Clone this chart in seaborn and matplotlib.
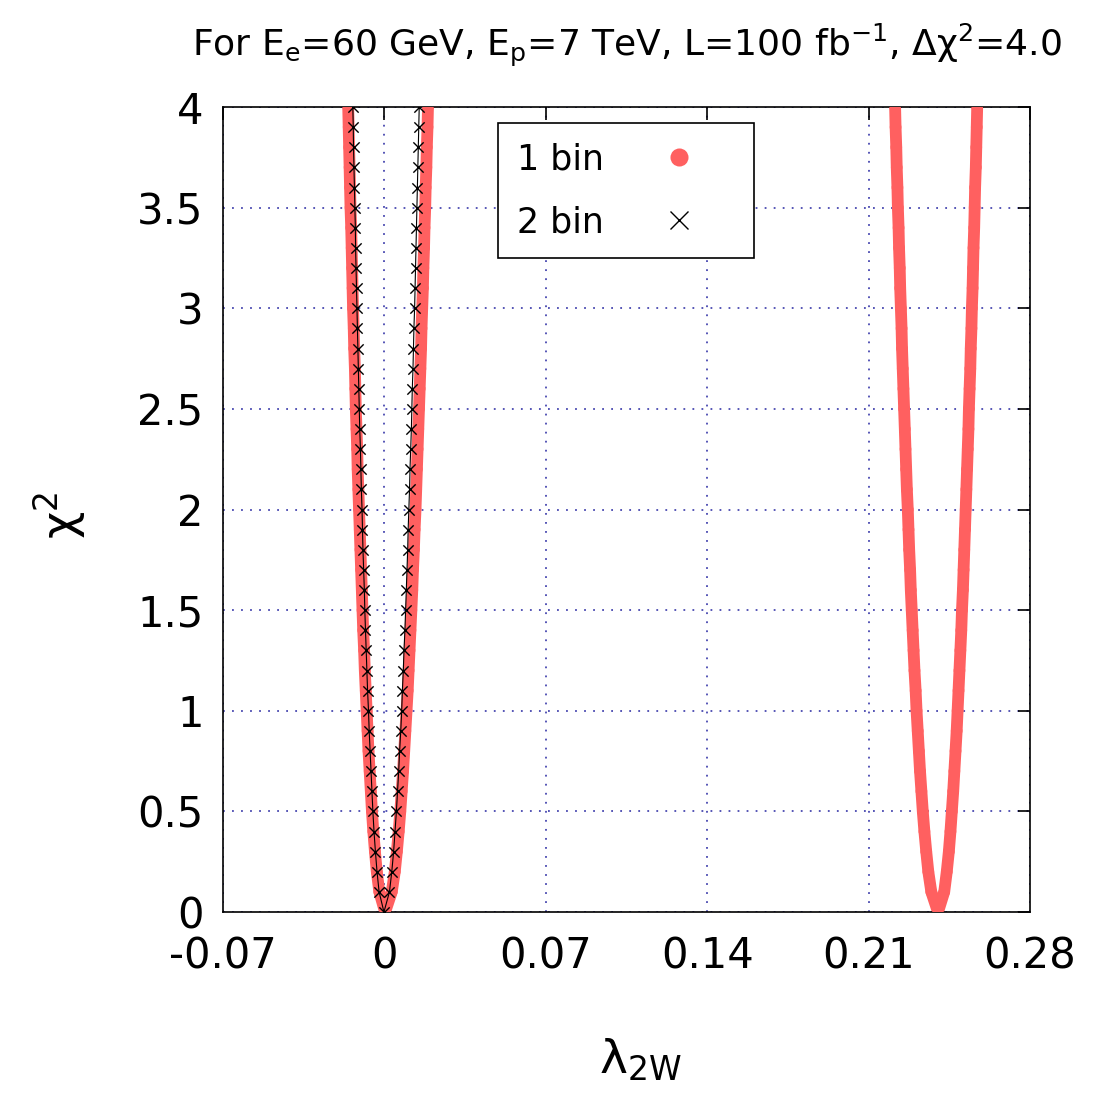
import numpy as np
import pandas as pd
import matplotlib
matplotlib.use('Agg')
import matplotlib.pyplot as plt
import seaborn as sns
from matplotlib.lines import Line2D

# chi^2 levels shared by every curve (left branch top -> minimum -> right branch top)
chi2_levels = [4.0, 3.9, 3.8, 3.7, 3.6, 3.5, 3.4, 3.3, 3.2, 3.1, 3.0, 2.9, 2.8, 2.7, 2.6, 2.5,
               2.4, 2.3, 2.2, 2.1, 2.0, 1.9, 1.8, 1.7, 1.6, 1.5, 1.4, 1.3, 1.2, 1.1, 1.0, 0.9,
               0.8, 0.7, 0.6, 0.5, 0.4, 0.3, 0.2, 0.1, 0.0,
               0.1, 0.2, 0.3, 0.4, 0.5, 0.6, 0.7, 0.8, 0.9, 1.0, 1.1, 1.2, 1.3, 1.4, 1.5,
               1.6, 1.7, 1.8, 1.9, 2.0, 2.1, 2.2, 2.3, 2.4, 2.5, 2.6, 2.7, 2.8, 2.9, 3.0,
               3.1, 3.2, 3.3, 3.4, 3.5, 3.6, 3.7, 3.8, 3.9, 4.0]

# 1 bin, solution near zero
lam_1bin_a = [-0.0157, -0.0155, -0.0153, -0.0151, -0.0149, -0.0147, -0.0144, -0.0142, -0.0140,
              -0.0138, -0.0136, -0.0133, -0.0131, -0.0128, -0.0126, -0.0124, -0.0121, -0.0118,
              -0.0116, -0.0113, -0.0110, -0.0107, -0.0104, -0.0101, -0.0098, -0.0095, -0.0092,
              -0.0088, -0.0085, -0.0081, -0.0077, -0.0073, -0.0069, -0.0064, -0.0059, -0.0054,
              -0.0048, -0.0041, -0.0033, -0.0022, 0.0003,
              0.0032, 0.0045, 0.0054, 0.0062, 0.0069, 0.0075, 0.0081, 0.0086, 0.0091, 0.0096,
              0.0101, 0.0105, 0.0109, 0.0113, 0.0117, 0.0121, 0.0124, 0.0128, 0.0131, 0.0135,
              0.0138, 0.0141, 0.0144, 0.0147, 0.0150, 0.0153, 0.0156, 0.0159, 0.0161, 0.0164,
              0.0167, 0.0169, 0.0172, 0.0174, 0.0177, 0.0179, 0.0182, 0.0184, 0.0187, 0.0189]

# 1 bin, second solution
lam_1bin_b = [0.2215, 0.2217, 0.2220, 0.2222, 0.2225, 0.2227, 0.2230, 0.2232, 0.2235, 0.2237,
              0.2240, 0.2243, 0.2245, 0.2248, 0.2251, 0.2254, 0.2257, 0.2260, 0.2263, 0.2266,
              0.2270, 0.2273, 0.2276, 0.2280, 0.2283, 0.2287, 0.2291, 0.2295, 0.2299, 0.2304,
              0.2308, 0.2313, 0.2318, 0.2323, 0.2329, 0.2335, 0.2342, 0.2350, 0.2359, 0.2372,
              0.2401,
              0.2428, 0.2439, 0.2448, 0.2455, 0.2461, 0.2467, 0.2472, 0.2477, 0.2482, 0.2486,
              0.2490, 0.2494, 0.2498, 0.2502, 0.2505, 0.2509, 0.2512, 0.2515, 0.2518, 0.2521,
              0.2524, 0.2527, 0.2530, 0.2533, 0.2535, 0.2538, 0.2541, 0.2543, 0.2546, 0.2548,
              0.2551, 0.2553, 0.2555, 0.2558, 0.2560, 0.2562, 0.2565, 0.2567, 0.2569, 0.2571]

# 2 bin
lam_2bin = [-0.0137, -0.0135, -0.0134, -0.0132, -0.0130, -0.0128, -0.0126, -0.0125, -0.0123,
            -0.0121, -0.0119, -0.0117, -0.0115, -0.0113, -0.0111, -0.0109, -0.0107, -0.0104,
            -0.0102, -0.0100, -0.0097, -0.0095, -0.0093, -0.0090, -0.0087, -0.0085, -0.0082,
            -0.0079, -0.0076, -0.0073, -0.0069, -0.0066, -0.0062, -0.0058, -0.0054, -0.0050,
            -0.0045, -0.0039, -0.0032, -0.0023, -0.0002,
            0.0022, 0.0032, 0.0040, 0.0046, 0.0052, 0.0057, 0.0062, 0.0066, 0.0071, 0.0075,
            0.0078, 0.0082, 0.0085, 0.0089, 0.0092, 0.0095, 0.0098, 0.0101, 0.0103, 0.0106,
            0.0109, 0.0111, 0.0114, 0.0117, 0.0119, 0.0121, 0.0124, 0.0126, 0.0128, 0.0131,
            0.0133, 0.0135, 0.0137, 0.0139, 0.0141, 0.0143, 0.0145, 0.0147, 0.0149, 0.0151]

series_labels = ['1 bin', '2 bin']
x_ticks = [-0.07, 0.0, 0.07, 0.14, 0.21, 0.28]
x_tick_labels = ['-0.07', '0', '0.07', '0.14', '0.21', '0.28']
y_ticks = [0.0, 0.5, 1.0, 1.5, 2.0, 2.5, 3.0, 3.5, 4.0]
y_tick_labels = ['0', '0.5', '1', '1.5', '2', '2.5', '3', '3.5', '4']
title_text = 'For E$_e$=60 GeV, E$_p$=7 TeV, L=100 fb$^{-1}$, Δχ$^2$=4.0'

sns.set_theme(style='white')
plt.rcParams['font.family'] = ['DejaVu Sans']
plt.rcParams['mathtext.default'] = 'regular'
plt.rcParams['text.color'] = 'black'
plt.rcParams['axes.labelcolor'] = 'black'

RED = '#ff6060'

fig = plt.figure(figsize=(11.03, 11.09), dpi=100)
ax = fig.add_axes([223 / 1103, 1 - 912 / 1109, 807 / 1103, 805 / 1109])

for lam in (lam_1bin_a, lam_1bin_b):
    df = pd.DataFrame({'lam': lam, 'chi2': chi2_levels})
    sns.lineplot(data=df, x='lam', y='chi2', sort=False, estimator=None,
                 color=RED, lw=8.5, ax=ax, zorder=2,
                 solid_joinstyle='round', solid_capstyle='round')
    sns.scatterplot(data=df, x='lam', y='chi2', color=RED, s=70,
                    edgecolor='none', ax=ax, zorder=3)

df2 = pd.DataFrame({'lam': lam_2bin, 'chi2': chi2_levels})
sns.lineplot(data=df2, x='lam', y='chi2', sort=False, estimator=None,
             color='black', lw=0.8, ax=ax, zorder=4)
sns.scatterplot(data=df2, x='lam', y='chi2', color='black', marker='x', s=55,
                linewidth=1.0, ax=ax, zorder=5)

ax.set_xlim(-0.07, 0.28)
ax.set_ylim(0, 4)
ax.set_xticks(x_ticks)
ax.set_xticklabels(x_tick_labels)
ax.set_yticks(y_ticks)
ax.set_yticklabels(y_tick_labels)
ax.set_xlabel('')
ax.set_ylabel('')

ax.set_axisbelow(True)
ax.grid(True, color='#4848b0', linestyle=(0, (1, 4)), linewidth=1.3)
for sp in ax.spines.values():
    sp.set_color('black')
    sp.set_linewidth(1.2)
ax.tick_params(axis='both', direction='in', length=9, width=1.2, top=True, right=True,
               labelsize=30, colors='black')
ax.tick_params(axis='x', pad=17)
ax.tick_params(axis='y', pad=14)

handles = [Line2D([], [], ls='none', marker='o', color=RED, markersize=13, markeredgewidth=0),
           Line2D([], [], ls='none', marker='x', color='black', markersize=13, markeredgewidth=1.0)]
leg = ax.legend(handles, series_labels, markerfirst=False, loc='upper left',
                bbox_to_anchor=(0.341, 0.980), borderaxespad=0, frameon=True, fancybox=False,
                edgecolor='black', framealpha=1, fontsize=25, borderpad=0.55,
                handlelength=3.2, handletextpad=0.55, labelspacing=0.84)
leg.get_frame().set_linewidth(1.2)
for t in leg.get_texts():
    t.set_color('black')

fig.text(627 / 1103, 1 - 45 / 1109, title_text, fontsize=26, ha='center', va='center',
         color='black')
fig.text(60 / 1103, 1 - 515 / 1109, 'χ$^2$', rotation=90, fontsize=34, ha='center',
         va='center', color='black')
fig.text(640 / 1103, 1 - 1060 / 1109, 'λ$_{2W}$', fontsize=34, ha='center', va='center',
         color='black')

fig.savefig('out.png', dpi=100)
